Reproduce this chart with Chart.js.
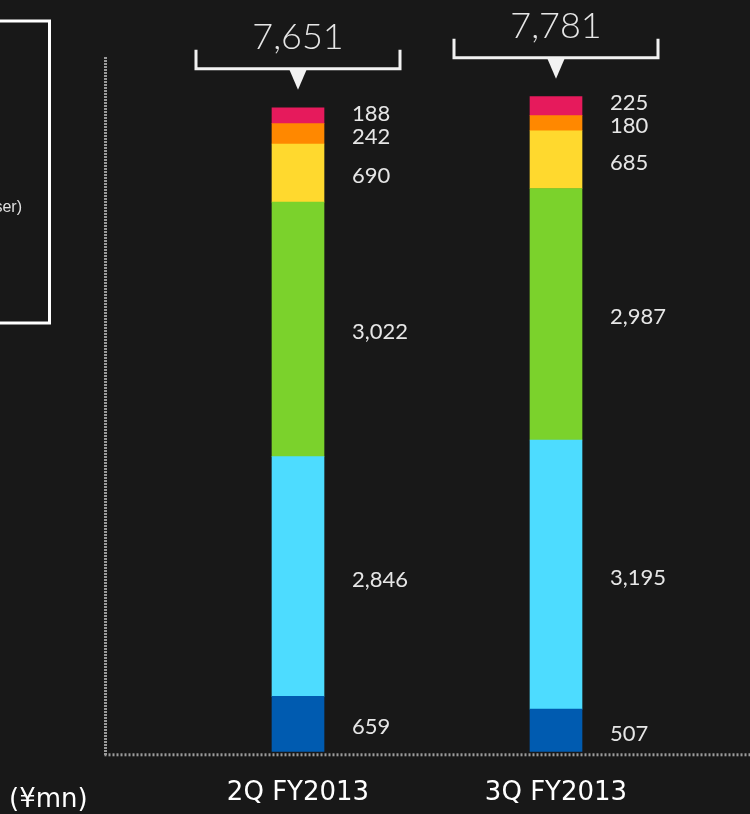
<!DOCTYPE html>
<html>
<head>
<meta charset="utf-8">
<script src="https://cdn.jsdelivr.net/npm/chart.js@4.4.1/dist/chart.umd.min.js"></script>
<style>
  html, body { margin: 0; padding: 0; background: #181818; overflow: hidden; }
</style>
</head>
<body>
<canvas id="sales" width="750" height="814"></canvas>
<script>
const quarters = ['2Q FY2013', '3Q FY2013'];
// segments, stacked from the bottom up
const seg1 = [659, 507];
const seg2 = [2846, 3195];
const seg3 = [3022, 2987];
const seg4 = [690, 685];
const seg5 = [242, 180];
const seg6 = [188, 225];
const totals = [7651, 7781];
const unitLabel = '(¥mn)';
const legendTail = 'ser)';

const colors = ['#005bb0', '#4ddcff', '#7bd22c', '#ffd92e', '#ff8800', '#e61a5c'];
const fmt = v => v.toLocaleString('en-US');

const decor = {
  id: 'decor',
  beforeDatasetsDraw(chart) {
    const { ctx, chartArea: a } = chart;
    const axisX = a.left - 63.5;
    ctx.save();
    ctx.strokeStyle = '#9a9a9a';
    ctx.lineWidth = 3;
    // dotted vertical axis
    ctx.setLineDash([2, 1]);
    ctx.beginPath();
    ctx.moveTo(axisX, a.top);
    ctx.lineTo(axisX, a.bottom + 4);
    ctx.stroke();
    // dotted baseline
    ctx.setLineDash([2, 2]);
    ctx.beginPath();
    ctx.moveTo(axisX - 1, a.bottom + 3);
    ctx.lineTo(chart.width, a.bottom + 3);
    ctx.stroke();
    ctx.restore();
  },
  afterDatasetsDraw(chart) {
    const { ctx } = chart;
    const n = chart.data.datasets.length;

    // value labels right of each segment
    ctx.save();
    ctx.fillStyle = '#e6e6e6';
    ctx.font = '22px Lato';
    ctx.textAlign = 'left';
    ctx.textBaseline = 'middle';
    quarters.forEach((q, i) => {
      let prevY = Infinity;
      for (let d = 0; d < n; d++) {
        const el = chart.getDatasetMeta(d).data[i];
        let y = (el.y + el.base) / 2 + 3;
        if (y > prevY - 23) y = prevY - 23;
        prevY = y;
        ctx.fillText(fmt(chart.data.datasets[d].data[i]), el.x + el.width / 2 + 28, y);
      }
    });
    ctx.restore();

    // totals with bracket
    const topMeta = chart.getDatasetMeta(n - 1);
    topMeta.data.forEach((bar, i) => {
      const cx = bar.x, lineY = bar.y - 39, half = 102;
      ctx.save();
      ctx.strokeStyle = '#f2f2f2';
      ctx.fillStyle = '#f2f2f2';
      ctx.lineWidth = 3;
      ctx.beginPath();
      ctx.moveTo(cx - half, lineY - 19);
      ctx.lineTo(cx - half, lineY);
      ctx.lineTo(cx + half, lineY);
      ctx.lineTo(cx + half, lineY - 19);
      ctx.stroke();
      ctx.beginPath();
      ctx.moveTo(cx - 9, lineY);
      ctx.lineTo(cx + 9, lineY);
      ctx.lineTo(cx, lineY + 21);
      ctx.closePath();
      ctx.fill();
      ctx.fillStyle = '#e6e6e6';
      ctx.font = '300 36px Lato';
      ctx.textAlign = 'center';
      ctx.textBaseline = 'middle';
      ctx.fillText(fmt(totals[i]), cx, bar.y - 70);
      ctx.restore();
    });
  },
  afterDraw(chart) {
    const { ctx } = chart;
    ctx.save();
    // legend frame, cut off at the left edge
    ctx.strokeStyle = '#ffffff';
    ctx.lineWidth = 3;
    ctx.strokeRect(-10, 21, 59.5, 302);
    ctx.fillStyle = '#e0e0e0';
    ctx.font = '16px "Liberation Sans"';
    ctx.textAlign = 'right';
    ctx.textBaseline = 'middle';
    ctx.fillText(legendTail, 22, 208);
    // unit
    ctx.fillStyle = '#ffffff';
    ctx.font = '26px "DejaVu Sans"';
    ctx.textAlign = 'left';
    ctx.fillText(unitLabel, 9, 800);
    ctx.restore();
  }
};

new Chart(document.getElementById('sales'), {
  type: 'bar',
  data: {
    labels: quarters,
    datasets: [seg1, seg2, seg3, seg4, seg5, seg6].map((vals, k) => ({
      label: 'seg' + (k + 1),
      data: vals,
      backgroundColor: colors[k],
      borderWidth: 0,
      barThickness: 52
    }))
  },
  options: {
    responsive: false,
    animation: false,
    layout: { padding: { left: 169, right: 65, top: 57, bottom: -21 } },
    plugins: { legend: { display: false }, tooltip: { enabled: false } },
    scales: {
      x: {
        stacked: true,
        grid: { display: false, drawTicks: false },
        border: { display: false },
        ticks: { color: '#ffffff', font: { family: 'DejaVu Sans', size: 26 }, padding: 26 }
      },
      y: {
        stacked: true,
        display: false,
        min: 0,
        max: 8250
      }
    }
  },
  plugins: [decor]
});
</script>
</body>
</html>
